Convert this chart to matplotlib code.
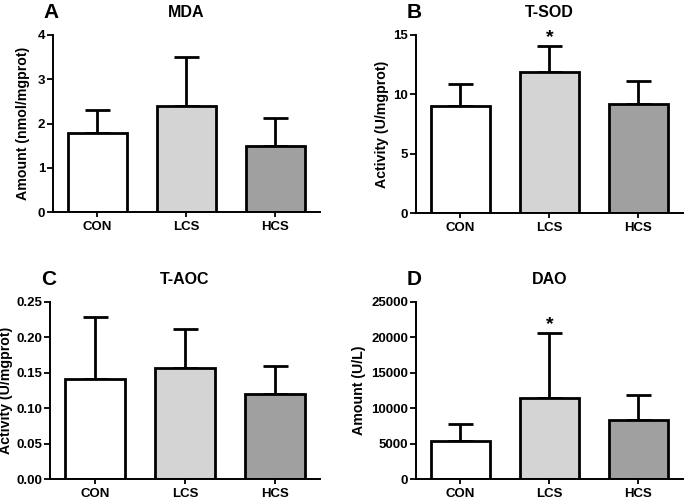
import numpy as np
import matplotlib
matplotlib.use("Agg")
import matplotlib.pyplot as plt

plt.rcParams['font.family'] = ['Liberation Sans', 'DejaVu Sans']
plt.rcParams['font.weight'] = 'bold'

groups = ["CON", "LCS", "HCS"]
bar_colors = ["#ffffff", "#d4d4d4", "#a0a0a0"]

mda_mean = [1.78, 2.40, 1.50]
mda_top = [2.30, 3.50, 2.12]
sod_mean = [9.0, 11.9, 9.2]
sod_top = [10.9, 14.1, 11.15]
aoc_mean = [0.141, 0.157, 0.120]
aoc_top = [0.229, 0.212, 0.159]
dao_mean = [5300, 11500, 8400]
dao_top = [7700, 20600, 11900]

# letter, title, ylabel, means, error tops, y ticks, star bar, axes rect, ylabel x (axes frac)
panels = [
    ("A", "MDA", "Amount (nmol/mgprot)", mda_mean, mda_top, [0, 1, 2, 3, 4], None,
     [0.077, 0.575, 0.390, 0.355], -0.112),
    ("B", "T-SOD", "Activity (U/mgprot)", sod_mean, sod_top, [0, 5, 10, 15], 1,
     [0.607, 0.573, 0.390, 0.357], -0.127),
    ("C", "T-AOC", "Activity (U/mgprot)", aoc_mean, aoc_top, [0, 0.05, 0.10, 0.15, 0.20, 0.25], None,
     [0.073, 0.040, 0.394, 0.355], -0.163),
    ("D", "DAO", "Amount (U/L)", dao_mean, dao_top, [0, 5000, 10000, 15000, 20000, 25000], 1,
     [0.607, 0.040, 0.390, 0.355], -0.213),
]

fig = plt.figure(figsize=(6.85, 4.99), dpi=100)

for letter, title, ylab, mean, top, yticks, star, rect, labx in panels:
    ax = fig.add_axes(rect)
    x = np.arange(len(groups))
    mean = np.array(mean)
    top = np.array(top)
    err = [np.zeros(len(mean)), top - mean]
    ax.bar(x, mean, width=0.66, color=bar_colors, edgecolor="black", linewidth=2, zorder=2)
    ax.errorbar(x, mean, yerr=err, fmt="none", ecolor="black", elinewidth=2,
                capsize=9, capthick=2, zorder=1)
    if star is not None:
        ax.text(x[star], top[star], "*", ha="center", va="bottom", fontsize=14, fontweight="bold")
    ax.set_xlim(-0.5, 2.5)
    ax.set_ylim(yticks[0], yticks[-1])
    ax.set_yticks(yticks)
    if letter == "C":
        ax.set_yticklabels([f"{t:.2f}" for t in yticks])
    ax.set_xticks(x)
    ax.set_xticklabels(groups)
    ax.tick_params(axis="x", length=3.5, width=1.3, pad=3, labelsize=9.5)
    ax.tick_params(axis="y", length=4, width=1.3, pad=1.5, labelsize=9.5)
    for s in ["top", "right"]:
        ax.spines[s].set_visible(False)
    for s in ["left", "bottom"]:
        ax.spines[s].set_linewidth(1.4)
    ax.set_ylabel(ylab, fontsize=10.2, fontweight="bold")
    ax.yaxis.set_label_coords(labx, 0.5)
    ax.yaxis.label.set_va("center")
    ax.set_title(title, fontsize=11.5, fontweight="bold", pad=13)
    for lab in ax.get_xticklabels() + ax.get_yticklabels():
        lab.set_fontweight("bold")
    fig.text(rect[0] - 0.002, rect[1] + rect[3] + 0.045, letter, fontsize=15,
             fontweight="bold", ha="center", va="center")

fig.savefig("out.png", dpi=100)
